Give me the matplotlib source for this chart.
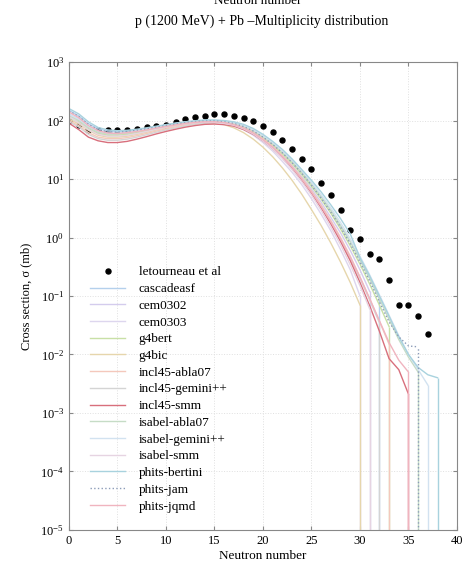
import numpy as np
import matplotlib
matplotlib.use('Agg')
import matplotlib.pyplot as plt

plt.rcParams['font.family'] = ['Liberation Serif', 'DejaVu Serif']
plt.rcParams['mathtext.fontset'] = 'stix'

# experimental data (letourneau et al)
exp_n = np.arange(0, 38)
exp_xs = [97, 85, 69, 69, 69, 69, 69, 73, 76, 81, 85, 95, 108, 116, 120, 127, 127, 120,
          111, 97, 81, 64, 47, 32, 22, 14.7, 8.4, 5.3, 3.0, 1.37, 0.95, 0.53, 0.43,
          0.19, 0.070, 0.070, 0.045, 0.022]

# model curves, values from n = 0 upward
cascadeasf = [150, 120, 88, 72, 66, 65, 66, 69, 73, 78, 83, 88, 93, 97, 99, 98, 95, 90, 80, 67,
              53, 40, 29, 20, 13, 8.2, 5, 2.9, 1.6, 0.85, 0.42, 0.2, 0.09]
cem0302 = [130, 105, 78, 65, 60, 60, 62, 66, 71, 76, 82, 88, 93, 97, 99, 98, 94, 86, 75, 62,
           48, 36, 25, 17, 11, 6.8, 4, 2.2, 1.2, 0.6, 0.28, 0.12]
cem0303 = [125, 100, 75, 62, 58, 58, 60, 64, 69, 74, 80, 86, 91, 95, 97, 96, 91, 82, 70, 56,
           42, 30, 20, 13, 8, 4.6, 2.5, 1.3, 0.62, 0.28, 0.1]
g4bert = [110, 95, 72, 60, 56, 56, 58, 62, 67, 73, 79, 85, 90, 94, 97, 97, 94, 88, 78, 65,
          51, 38, 27, 18.5, 12, 7.5, 4.5, 2.6, 1.4, 0.72, 0.35, 0.16, 0.07, 0.03]
g4bic = [105, 88, 68, 56, 52, 52, 54, 58, 63, 69, 75, 81, 86, 90, 92, 90, 85, 75, 62, 48,
         35, 24, 15.5, 9.5, 5.5, 3, 1.6, 0.8, 0.38, 0.17, 0.07]
incl45_abla07 = [100, 82, 62, 52, 49, 49, 51, 55, 60, 66, 72, 78, 84, 89, 93, 94, 92, 86, 76, 63,
                 49, 36, 25, 16.5, 10.5, 6.3, 3.6, 1.95, 1.0, 0.48, 0.21, 0.09, 0.037, 0.015]
incl45_gemini = [95, 78, 58, 49, 46, 46, 48, 52, 57, 63, 69, 75, 81, 86, 90, 91, 89, 84, 73, 60,
                 46, 34, 23.5, 15.5, 9.8, 5.9, 3.3, 1.8, 0.92, 0.44, 0.2, 0.085, 0.035]
incl45_smm = [90, 70, 52, 45, 42, 42, 44, 48, 53, 59, 65, 71, 77, 82, 86, 87, 85, 80, 70, 58,
              45, 33, 23, 15, 9.5, 5.7, 3.2, 1.7, 0.85, 0.4, 0.17, 0.068, 0.025, 0.0085,
              0.0055, 0.0021]
isabel_abla07 = [120, 100, 76, 63, 59, 59, 61, 65, 70, 76, 82, 88, 93, 97, 99, 99, 96, 90, 80, 67,
                 53, 40, 29, 20, 13, 8.2, 5, 2.9, 1.6, 0.85, 0.42, 0.2, 0.09, 0.04, 0.018, 0.009,
                 0.005]
isabel_gemini = [128, 106, 80, 66, 61, 61, 63, 67, 72, 78, 84, 90, 95, 99, 101, 101, 98, 92, 82, 69,
                 55, 42, 30, 21, 14, 8.8, 5.4, 3.2, 1.8, 0.95, 0.48, 0.23, 0.105, 0.047, 0.021,
                 0.01, 0.0055, 0.003]
isabel_smm = [115, 92, 70, 58, 54, 54, 56, 60, 65, 71, 77, 83, 88, 92, 94, 93, 89, 83, 72, 59,
              45, 33, 22.5, 14.5, 9, 5.3, 2.9, 1.5, 0.75, 0.34, 0.15, 0.06]
phits_bertini = [160, 130, 95, 76, 69, 67, 68, 71, 75, 80, 85, 90, 95, 99, 102, 102, 100, 95, 86, 73,
                 58, 44, 32, 22, 14.5, 9.5, 6, 3.6, 2.1, 1.15, 0.45, 0.22, 0.1, 0.045, 0.02,
                 0.01, 0.006, 0.0045, 0.004]
phits_jam = [145, 118, 86, 70, 64, 63, 65, 68, 72, 77, 82, 87, 92, 96, 98, 98, 95, 89, 79, 66,
             52, 39, 28, 19, 12.5, 7.8, 4.7, 2.7, 1.5, 0.78, 0.38, 0.18, 0.08, 0.036, 0.02,
             0.014, 0.0135]
phits_jqmd = [140, 112, 82, 67, 61, 60, 62, 65, 69, 74, 79, 84, 89, 93, 95, 95, 92, 85, 74, 61,
              47, 35, 24, 16, 10, 6, 3.4, 1.85, 0.95, 0.46, 0.21, 0.09, 0.038, 0.016, 0.008, 0.005]

models = [
    ('cascadeasf', cascadeasf, '#b4d0ec', '-'),
    ('cem0302', cem0302, '#d4cced', '-'),
    ('cem0303', cem0303, '#ddd6ee', '-'),
    ('g4bert', g4bert, '#c8e0a6', '-'),
    ('g4bic', g4bic, '#e6d6ac', '-'),
    ('incl45-abla07', incl45_abla07, '#f4c8bc', '-'),
    ('incl45-gemini++', incl45_gemini, '#d4d4d4', '-'),
    ('incl45-smm', incl45_smm, '#d86f7c', '-'),
    ('isabel-abla07', isabel_abla07, '#c6dcc6', '-'),
    ('isabel-gemini++', isabel_gemini, '#d2e2f0', '-'),
    ('isabel-smm', isabel_smm, '#e6d4e2', '-'),
    ('phits-bertini', phits_bertini, '#a8d2de', '-'),
    ('phits-jam', phits_jam, '#8c9cb8', ':'),
    ('phits-jqmd', phits_jqmd, '#f0b4bf', '-'),
]

fig = plt.figure(figsize=(4.63, 5.70), dpi=100)
ax = fig.add_axes([0.149, 0.0702, 0.838, 0.821])

ax.plot(exp_n, exp_xs, 'o', color='black', markersize=3.6, label='letourneau et al')
for name, vals, col, ls in models:
    n = np.arange(len(vals))
    ax.plot(n, vals, ls, color=col, lw=1.0, label=name)
    ax.vlines(n[-1], 1e-6, vals[-1], color=col, lw=1.0, linestyle=ls)

ax.set_yscale('log')
ax.set_xlim(0, 40)
ax.set_ylim(1e-5, 1e3)
ax.set_xticks(np.arange(0, 41, 5))
ax.set_yticks([1e-5, 1e-4, 1e-3, 1e-2, 1e-1, 1e0, 1e1, 1e2, 1e3])
ax.minorticks_off()
ax.tick_params(direction='in', top=True, right=True, labelsize=9, length=3, color='#888888')
ax.grid(True, color='#e0e0e0', linestyle=':', lw=0.7)
for s in ax.spines.values():
    s.set_color('#888888')
    s.set_linewidth(0.8)

ax.set_xlabel('Neutron number', fontsize=9.5, labelpad=2)
ax.set_ylabel('Cross section, σ (mb)', fontsize=9, labelpad=6)

fig.text(0.566, 0.962, 'p (1200 MeV) + Pb \u2013Multiplicity distribution', ha='center', va='center', fontsize=10)
fig.text(0.557, 0.998, 'Neutron number', ha='center', va='center', fontsize=9.5)

ax.legend(loc='upper left', bbox_to_anchor=(0.04, 0.575), frameon=False, fontsize=9.5,
          handlelength=2.7, handletextpad=1.0, labelspacing=0.34, borderaxespad=0)

fig.savefig('out.png', dpi=100)
